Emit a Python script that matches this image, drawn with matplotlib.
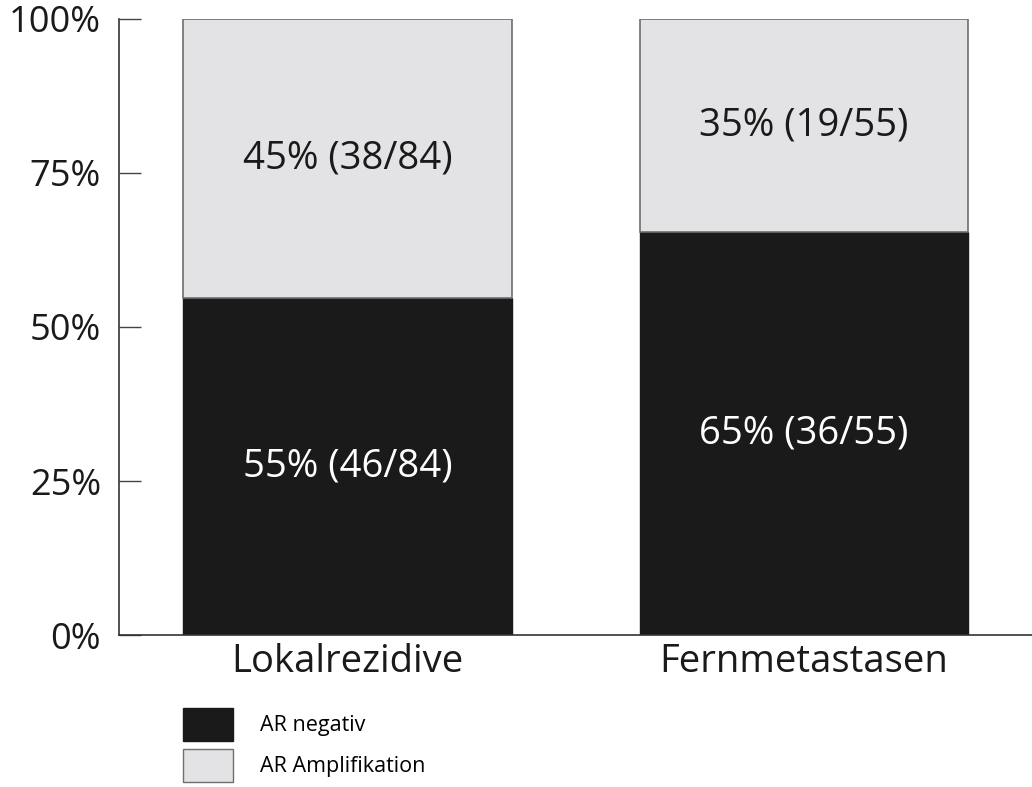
import matplotlib
matplotlib.use("Agg")
import matplotlib.pyplot as plt
from matplotlib.patches import Patch

categories = ["Lokalrezidive", "Fernmetastasen"]
neg_counts = [46, 36]
amp_counts = [38, 19]
totals = [84, 55]
neg_pct = [55, 65]
amp_pct = [45, 35]
series_labels = ["AR negativ", "AR Amplifikation"]
yticks = [0, 25, 50, 75, 100]

dark = "#1a1a1a"
light = "#e3e2e4"
edge = "#6e6e6e"

plt.rcParams["font.family"] = ["Open Sans", "DejaVu Sans"]

fig = plt.figure(figsize=(10.32, 7.87), dpi=100)
ax = fig.add_axes([0.1153, 0.193, 0.885, 0.783])

x = range(len(categories))
neg_h = [100 * n / t for n, t in zip(neg_counts, totals)]
amp_h = [100 * a / t for a, t in zip(amp_counts, totals)]

ax.bar(x, neg_h, width=0.72, color=dark, edgecolor=dark, linewidth=1.0)
ax.bar(x, amp_h, width=0.72, bottom=neg_h, color=light, edgecolor=edge, linewidth=1.2)

for i in x:
    ax.text(i, neg_h[i] / 2, f"{neg_pct[i]}% ({neg_counts[i]}/{totals[i]})",
            ha="center", va="center", color="white", fontsize=27.5)
    ax.text(i, neg_h[i] + amp_h[i] / 2, f"{amp_pct[i]}% ({amp_counts[i]}/{totals[i]})",
            ha="center", va="center", color="#1a1a1a", fontsize=27.5)

ax.set_xlim(-0.5, 1.5)
ax.set_ylim(0, 100)
ax.set_yticks(yticks)
ax.set_yticklabels([f"{v}%" for v in yticks], fontsize=26, color="#1a1a1a")
ax.set_xticks(list(x))
ax.set_xticklabels(categories, fontsize=27.5, color="#1a1a1a")
ax.tick_params(axis="y", direction="in", length=16, width=1.0, color="#444444", pad=13)
ax.tick_params(axis="x", length=0, pad=6)

for s in ["top", "right"]:
    ax.spines[s].set_visible(False)
for s in ["left", "bottom"]:
    ax.spines[s].set_color("#333333")
    ax.spines[s].set_linewidth(1.2)

handles = [Patch(facecolor=dark, edgecolor=dark),
           Patch(facecolor=light, edgecolor=edge)]
fig.legend(handles, series_labels, loc="upper left",
           bbox_to_anchor=(183 / 1032, 1 - 708 / 787), frameon=False,
           fontsize=15.5, handlelength=2.3, handleheight=1.95,
           handletextpad=1.3, labelspacing=0.4, borderpad=0, borderaxespad=0)

fig.savefig("out.png", dpi=100, facecolor="white")
